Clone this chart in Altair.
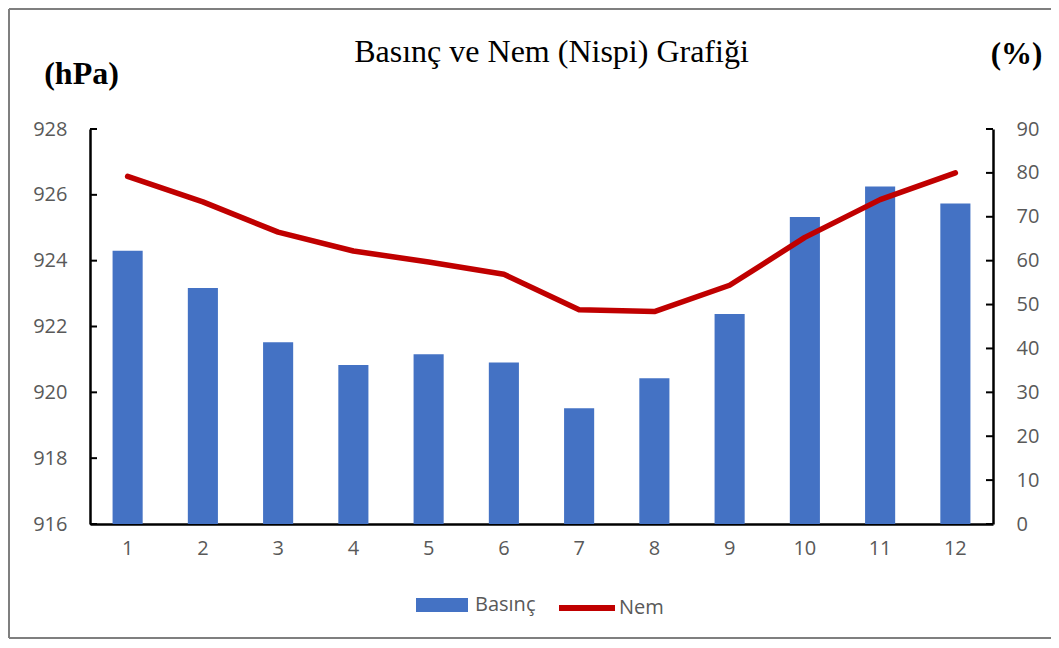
import altair as alt
import pandas as pd

months = [1, 2, 3, 4, 5, 6, 7, 8, 9, 10, 11, 12]
pressure = [924.30, 923.17, 921.52, 920.83, 921.16, 920.91, 919.52, 920.43, 922.38, 925.33, 926.25, 925.74]
humidity = [79.2, 73.4, 66.5, 62.2, 59.7, 56.9, 48.8, 48.4, 54.4, 65.3, 73.9, 80.0]
left_ticks = [916, 918, 920, 922, 924, 926, 928]
right_ticks = [0, 10, 20, 30, 40, 50, 60, 70, 80, 90]

W, H = 903, 395
GRAY = "#595959"
LABEL_FONT = "Open Sans"
SERIF = "Liberation Serif"

df = pd.DataFrame({"month": months, "pressure": pressure, "humidity": humidity,
                   "s1": ["Basınç"] * 12, "s2": ["Nem"] * 12})
lt = pd.DataFrame({"v": left_ticks})
rt = pd.DataFrame({"v": right_ticks})

xenc = alt.X("month:O", scale=alt.Scale(paddingInner=0.6, paddingOuter=0.3),
             axis=alt.Axis(title=None, labelAngle=0, ticks=False, tickSize=0, labelPadding=14,
                           labelFont=LABEL_FONT, labelFontSize=20, labelColor=GRAY,
                           domainColor="black", domainWidth=2.5))

yl_scale = alt.Scale(domain=[916, 928], zero=False, nice=False)
yr_scale = alt.Scale(domain=[0, 90], nice=False)

left_axis = alt.Axis(values=left_ticks, orient="left", grid=False, ticks=False, tickSize=0,
                     labelPadding=23, labelFont=LABEL_FONT, labelFontSize=20, labelColor=GRAY,
                     domainColor="black", domainWidth=2.5,
                     title="(hPa)", titleAngle=0, titleFont=SERIF, titleFontSize=32,
                     titleFontWeight="bold", titleColor="black", titleAlign="center",
                     titleBaseline="alphabetic", titleX=-9, titleY=-46)
right_axis = alt.Axis(values=right_ticks, orient="right", grid=False, ticks=False, tickSize=0,
                      labelPadding=23, labelFont=LABEL_FONT, labelFontSize=20, labelColor=GRAY,
                      domainColor="black", domainWidth=2.5,
                      title="(%)", titleAngle=0, titleFont=SERIF, titleFontSize=31,
                      titleFontWeight="bold", titleColor="black", titleAlign="center",
                      titleBaseline="alphabetic", titleX=23, titleY=-66)

bars = alt.Chart(df).mark_bar().encode(
    x=xenc,
    y=alt.Y("pressure:Q", scale=yl_scale, axis=left_axis),
    y2=alt.datum(916),
    color=alt.Color("s1:N", scale=alt.Scale(domain=["Basınç"], range=["#4472C4"]),
                    legend=alt.Legend(title=None, orient="none", legendX=326, legendY=450,
                                      symbolType="M-1,-0.27H1V0.27H-1Z", symbolSize=2704,
                                      symbolStrokeWidth=0, labelFont=LABEL_FONT, labelFontSize=20,
                                      labelColor=GRAY, labelOffset=7, padding=0, offset=0)),
)

lticks = alt.Chart(lt).mark_rule(color="black", strokeWidth=2).encode(
    x=alt.value(0), x2=alt.value(7),
    y=alt.Y("v:Q", scale=yl_scale, axis=left_axis),
)

line = alt.Chart(df).mark_line(strokeWidth=5.5, strokeCap="round", strokeJoin="round").encode(
    x=alt.X("month:O"),
    y=alt.Y("humidity:Q", scale=yr_scale, axis=right_axis),
    color=alt.Color("s2:N", scale=alt.Scale(domain=["Nem"], range=["#C00000"]),
                    legend=alt.Legend(title=None, orient="none", legendX=466, legendY=448,
                                      symbolType="stroke", symbolSize=3136, symbolStrokeWidth=6,
                                      labelFont=LABEL_FONT, labelFontSize=20,
                                      labelColor=GRAY, labelOffset=1, padding=0, offset=0)),
)

rticks = alt.Chart(rt).mark_rule(color="black", strokeWidth=2).encode(
    x=alt.value(W - 7), x2=alt.value(W),
    y=alt.Y("v:Q", scale=yr_scale, axis=right_axis),
)

frame_style = dict(color="#7f7f7f", strokeWidth=2, clip=False)
frame_left = alt.Chart(df).mark_rule(**frame_style).encode(
    x=alt.value(-81), y=alt.value(-120), y2=alt.value(509))
frame_top = alt.Chart(df).mark_rule(**frame_style).encode(
    x=alt.value(-81), x2=alt.value(W + 70), y=alt.value(-120))
frame_bottom = alt.Chart(df).mark_rule(**frame_style).encode(
    x=alt.value(-81), x2=alt.value(W + 70), y=alt.value(509))

chart = alt.layer(
    alt.layer(frame_left, frame_top, frame_bottom, bars, lticks),
    alt.layer(line, rticks),
).resolve_scale(y="independent", color="independent").resolve_legend(color="independent").properties(
    width=W, height=H,
    title=alt.TitleParams("Basınç ve Nem (Nispi) Grafiği", font=SERIF, fontSize=32,
                          fontWeight="normal", color="black", anchor="middle", frame="group",
                          baseline="alphabetic", offset=-86, dx=10),
    autosize=alt.AutoSizeParams(type="none"),
    padding={"left": 82, "top": 121, "right": 58, "bottom": 116},
).configure_view(stroke=None)

chart.save("out.html", embed_options={"renderer": "svg", "actions": False})
